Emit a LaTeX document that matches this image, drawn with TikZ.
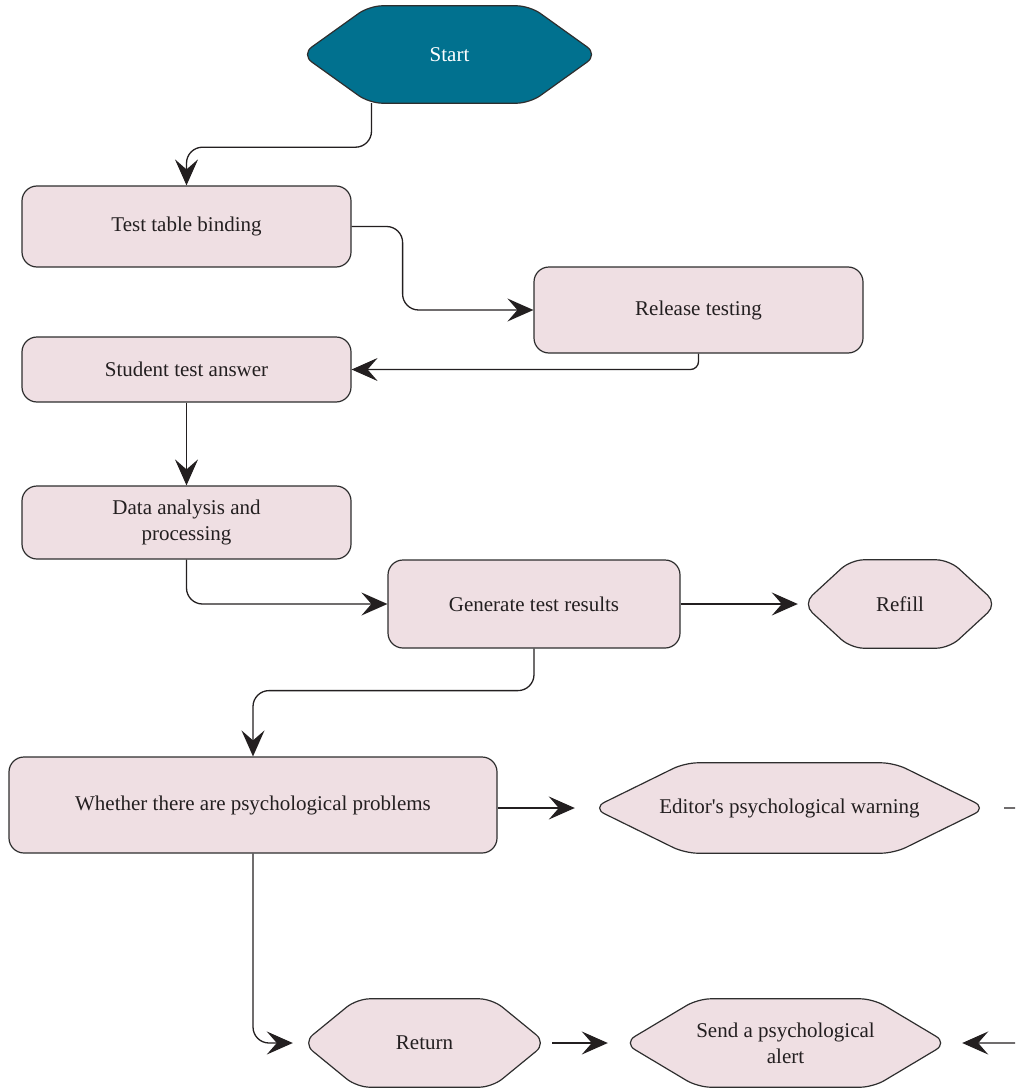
\documentclass[tikz,border=0pt]{standalone}
\usepackage{fontspec}
\newfontfamily\labelfont{Liberation Serif}
\usetikzlibrary{arrows.meta,backgrounds,calc}

\definecolor{boxfill}{HTML}{EFDFE3}
\definecolor{boxline}{HTML}{2E2E2E}
\definecolor{startfill}{HTML}{01718F}
\definecolor{inktext}{HTML}{231F20}

% hexagonal frame drawn around a (borderless) label node
\newcommand\hexoutline[3][boxfill]{%
  \path[hexedge, fill=#1] (#2.north) -- ([xshift=-#3pt]#2.north east) -- (#2.east)
    -- ([xshift=-#3pt]#2.south east) -- ([xshift=#3pt]#2.south west) -- (#2.west)
    -- ([xshift=#3pt]#2.north west) -- cycle;}

\begin{document}
\begin{tikzpicture}[x=1pt, y=-1pt,
  txt/.style={text=inktext, font=\labelfont\fontsize{21}{26}\selectfont, align=center, inner sep=0pt},
  flowbox/.style={txt, draw=boxline, fill=boxfill, line width=1.2pt, rounded corners=15pt},
  hexlabel/.style={txt},
  hexedge/.style={draw=boxline, line width=1.2pt, rounded corners=13pt},
  link/.style={draw=inktext, line width=1.3pt, rounded corners=16pt,
    -{Stealth[length=26pt, width=23pt, inset=10pt]}}]

\useasboundingbox (0,0) rectangle (1015,1089);
\clip (0,0) rectangle (1015,1089);

% rectangular steps
\node[flowbox, minimum width=329pt, minimum height=81pt] (bind) at (186.5,226.5) {Test table binding};
\node[flowbox, minimum width=329pt, minimum height=86pt] (release) at (698.5,310) {Release testing};
\node[flowbox, minimum width=329pt, minimum height=65pt] (answer) at (186.5,369.5) {Student test answer};
\node[flowbox, minimum width=329pt, minimum height=73pt] (analysis) at (186.5,522.5) {Data analysis and\\processing};
\node[flowbox, minimum width=292pt, minimum height=88pt] (results) at (534,604) {Generate test results};
\node[flowbox, minimum width=488pt, minimum height=96pt] (psych) at (253,805) {Whether there are psychological problems};

% hexagonal terminals
\node[hexlabel, text=white, minimum width=296pt, minimum height=97pt] (start) at (449.5,54.5) {Start};
\node[hexlabel, minimum width=194pt, minimum height=88pt] (refill) at (900,604) {Refill};
\node[hexlabel, minimum width=393pt, minimum height=90pt] (warn) at (789.5,808) {Editor's psychological warning};
\node[hexlabel, minimum width=243pt, minimum height=88pt] (return) at (424.5,1043) {Return};
\node[hexlabel, minimum width=323pt, minimum height=88pt] (alert) at (785.5,1043) {Send a psychological\\alert};

\begin{pgfonlayer}{background}
  \hexoutline[startfill]{start}{68}
  \hexoutline{refill}{48}
  \hexoutline{warn}{92}
  \hexoutline{return}{54}
  \hexoutline{alert}{74}
\end{pgfonlayer}

% connectors
\draw[link] ([xshift=-78pt]start.south) -- ++(0,44) -| (bind.north);
\draw[link] (bind.east) -- ++(51,0) |- (release.west);
\draw[link, rounded corners=8pt] (release.south) |- (answer.east);
\draw[link] (answer.south) -- (analysis.north);
\draw[link] (analysis.south) |- (results.west);
\draw[link, shorten >=5pt] (results.east) -- (refill.west);
\draw[link] (results.south) -- ++(0,42) -| (psych.north);
\draw[link, shorten >=18pt] (psych.east |- warn.west) -- (warn.west);
\draw[link, shorten >=10pt] (psych.south) |- (return.west);
\draw[link, shorten <=6pt, shorten >=16pt] (return.east) -- (alert.west);
\draw[link, shorten <=18pt, shorten >=15pt] (warn.east) -- ++(60,0) |- (alert.east);
\end{tikzpicture}
\end{document}
